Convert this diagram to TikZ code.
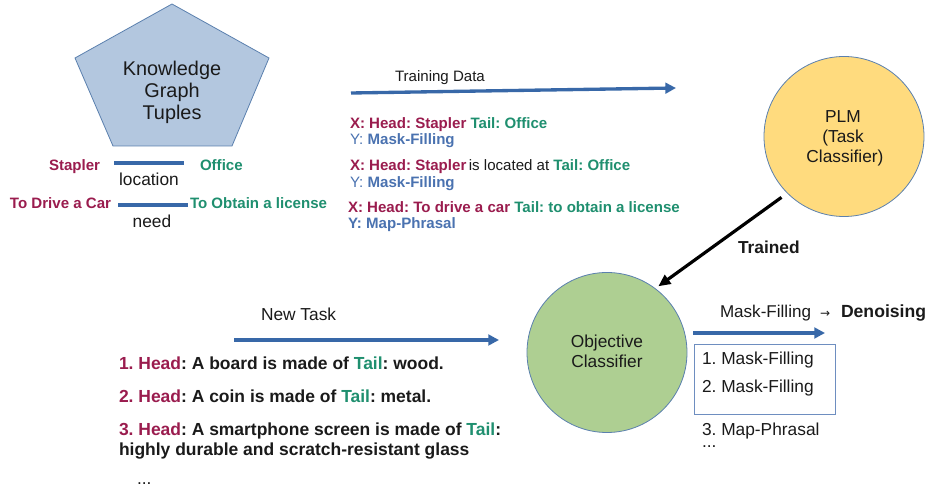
\documentclass[tikz,border=0pt]{standalone}
\usepackage{fontspec}
\setmainfont{Liberation Sans}
\newfontfamily\symfont{DejaVu Sans}
\usetikzlibrary{arrows.meta}
\definecolor{ink}{HTML}{1A1A1A}
\definecolor{headc}{HTML}{9A1C4E}
\definecolor{tailc}{HTML}{1F8F6F}
\definecolor{yc}{HTML}{4A72B0}
\definecolor{arrowc}{HTML}{3868A8}
\definecolor{penta}{HTML}{B3C7DF}
\definecolor{pentad}{HTML}{5B80AE}
\definecolor{plmc}{HTML}{FFDB7E}
\definecolor{objc}{HTML}{AECF92}
\newcommand{\hd}[1]{\textcolor{headc}{#1}}
\newcommand{\tl}[1]{\textcolor{tailc}{#1}}
\newcommand{\yy}[1]{\textcolor{yc}{#1}}
\tikzset{
  x=0.75pt,y=-0.75pt,
  lbl/.style={anchor=base west,inner sep=0pt,outer sep=0pt,text=ink,yshift=-0.75pt,font=\fontsize{13pt}{15pt}\selectfont},
  lblc/.style={lbl,anchor=base},
  bl/.style={lbl,font=\bfseries\fontsize{11.3pt}{13pt}\selectfont},
  blist/.style={lbl,font=\bfseries\fontsize{13.1pt}{15pt}\selectfont},
  bigc/.style={circle,draw=pentad,line width=0.6pt,inner sep=0pt,outer sep=0pt,minimum size=120pt},
  flow/.style={draw=arrowc,line width=2.5pt,-{Triangle[length=8pt,width=8pt]}},
  rel/.style={draw=arrowc,line width=2.6pt},
}
\begin{document}
\frenchspacing
\begin{tikzpicture}
\useasboundingbox (0,0) rectangle (926,488);
% pentagon
\coordinate (p1) at (172,4);
\coordinate (p2) at (269,58);
\coordinate (p3) at (232,146);
\coordinate (p4) at (113,146);
\coordinate (p5) at (75,58);
\draw[fill=penta,draw=pentad,line width=0.6pt] (p1)--(p2)--(p3)--(p4)--(p5)--cycle;
\node[lblc,font=\fontsize{14.9pt}{18pt}\selectfont] (k1) at (172,75) {Knowledge};
\node[lblc,font=\fontsize{14.9pt}{18pt}\selectfont] (k2) at (172,97) {Graph};
\node[lblc,font=\fontsize{14.9pt}{18pt}\selectfont] (k3) at (172,119) {Tuples};
% relations
\node[bl,text=headc] (stap) at (49,170) {Stapler};
\node[bl,text=tailc] (off) at (200,170) {Office};
\coordinate (r1a) at (114,163);
\coordinate (r1b) at (184,163);
\draw[rel] (r1a) -- (r1b);
\node[lblc] (loc) at (149,185) {location};
\node[bl,text=headc] (drive) at (10,208) {To Drive a Car};
\node[bl,text=tailc] (obtain) at (190,208) {To Obtain a license};
\coordinate (r2a) at (118,205);
\coordinate (r2b) at (188,205);
\draw[rel] (r2a) -- (r2b);
\node[lblc] (need) at (152,227) {need};
% training
\coordinate (t1) at (351,93);
\coordinate (t2) at (676,88);
\draw[flow] (t1) -- (t2);
\node[lbl,font=\fontsize{11.3pt}{13pt}\selectfont] (td) at (395,81) {Training Data};
\node[bl] (x1) at (350,128) {\hd{X: Head: Stapler} \tl{Tail: Office}};
\node[bl] (y1) at (350,144) {\yy{\mdseries Y:} \yy{Mask-Filling}};
\node[bl] (x2) at (350,170) {\hd{X: Head: Stapler}\,{\mdseries is located at} \tl{Tail: Office}};
\node[bl] (y2) at (350,187) {\yy{\mdseries Y:} \yy{Mask-Filling}};
\node[bl] (x3) at (348,212) {\hd{X: Head: To drive a car} \tl{Tail: to obtain a license}};
\node[bl] (y3) at (348,228) {\yy{Y: Map-Phrasal}};
% circles
\node[bigc,fill=plmc] (plm) at (844,136.5) {};
\node[lblc] (pl1) at (843,122) {PLM};
\node[lblc] (pl2) at (843,142) {(Task};
\node[lblc] (pl3) at (845,162) {Classifier)};
\node[bigc,fill=objc] (obj) at (607,352.5) {};
\node[lblc] (ob1) at (607,347) {Objective};
\node[lblc] (ob2) at (607,367) {Classifier};
\draw[black,line width=2.4pt,shorten <=5.5pt,shorten >=3pt,-{Triangle[length=9pt,width=8pt]}] (plm.225) -- (obj.53);
\node[lbl] (tr) at (738,253) {\textbf{Trained}};
% new task
\coordinate (n1) at (234,340);
\coordinate (n2) at (499,340);
\draw[flow] (n1) -- (n2);
\node[lbl] (nt) at (261,320) {New Task};
\node[blist] (l1) at (119,369) {\hd{1. Head}: A board is made of \tl{Tail}: wood.};
\node[blist] (l2) at (119,402) {\hd{2. Head}: A coin is made of \tl{Tail}: metal.};
\node[blist] (l3) at (119,435) {\hd{3. Head}: A smartphone screen is made of \tl{Tail}:};
\node[blist] (l4) at (119,455) {highly durable and scratch-resistant glass};
\node[lbl] (l5) at (137,484) {...};
% output
\coordinate (o1) at (693,333);
\coordinate (o2) at (825,333);
\draw[flow] (o1) -- (o2);
\node[lbl,font=\fontsize{12.8pt}{15pt}\selectfont] (mf) at (720,317) {Mask-Filling};
\node[lbl,font=\fontsize{9pt}{10pt}\selectfont] (mfa) at (820,317) {\symfont →};
\node[lbl,font=\bfseries\fontsize{13.2pt}{15pt}\selectfont] (den) at (841,317) {Denoising};
\node[draw=yc!80,line width=0.8pt,minimum width=106pt,minimum height=52.5pt,inner sep=0pt,anchor=north west] (box) at (694,344) {};
\node[lbl] (b1) at (702,364) {1. Mask-Filling};
\node[lbl] (b2) at (702,392) {2. Mask-Filling};
\node[lbl] (b3) at (702,435) {3. Map-Phrasal};
\node[lbl] (b4) at (702,447) {...};
\end{tikzpicture}
\end{document}
